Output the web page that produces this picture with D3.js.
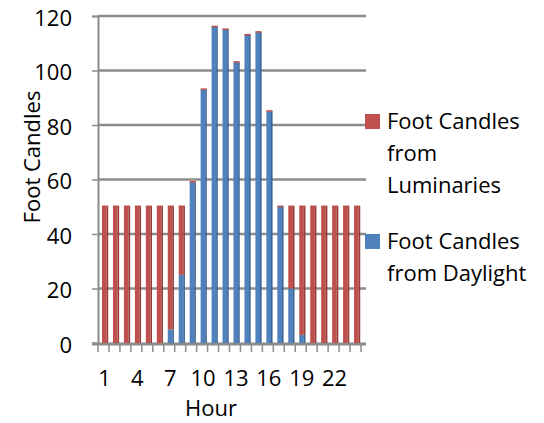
<!DOCTYPE html>
<html>
<head>
<meta charset="utf-8">
<script src="https://cdn.jsdelivr.net/npm/d3@7"></script>
<style>
  html, body { margin: 0; padding: 0; background: #fff; }
  svg { display: block; font-family: "Open Sans", sans-serif; }
</style>
</head>
<body>
<svg id="chart" width="544" height="423"></svg>
<script>
const hours = [1,2,3,4,5,6,7,8,9,10,11,12,13,14,15,16,17,18,19,20,21,22,23,24];
const daylight   = [0,0,0,0,0,0,5,25,59,93,116,115,103,113,114,85,50,20,3,0,0,0,0,0];
const luminaries = [50,50,50,50,50,50,45,25,0,0,0,0,0,0,0,0,0,30,47,50,50,50,50,50];
const yTicks = [0,20,40,60,80,100,120];
const xTickLabels = [1,4,7,10,13,16,19,22];
const seriesNames = ["Foot Candles from Daylight", "Foot Candles from Luminaries"];
const colors = { daylight: "#4F81BD", luminaries: "#C0504D" };
const sideColors = { daylight: "#3A6496", luminaries: "#963B38" };
const FS = 22;

const svg = d3.select("#chart");
const x = d3.scaleBand().domain(hours).range([98, 361]);
const y = d3.scaleLinear().domain([0, 120]).range([343, 16]);

// gridlines
svg.append("g").selectAll("line").data(yTicks.filter(d => d > 0)).join("line")
  .attr("x1", 98).attr("x2", 366)
  .attr("y1", d => y(d)).attr("y2", d => y(d))
  .attr("stroke", "#8c8c8c").attr("stroke-width", 2.5);

// y axis
const yAxis = d3.axisLeft(y).tickValues(yTicks).tickSize(6).tickPadding(20);
const gy = svg.append("g").attr("transform", "translate(98,0)").call(yAxis);
gy.select(".domain").attr("stroke", "#8c8c8c").attr("stroke-width", 2);
gy.selectAll(".tick line").attr("stroke", "#8c8c8c").attr("stroke-width", 1.5);
gy.selectAll(".tick text").attr("font-size", FS).attr("fill", "#000")
  .attr("font-family", "Open Sans, sans-serif").attr("dy", "0.42em");

// floor + x ticks
svg.append("line").attr("x1", 92).attr("x2", 366).attr("y1", 344).attr("y2", 344)
  .attr("stroke", "#8c8c8c").attr("stroke-width", 3);
const xAxis = d3.axisBottom(x).tickValues(xTickLabels).tickSize(0).tickPadding(26);
const gx = svg.append("g").attr("transform", "translate(0,344)").call(xAxis);
gx.select(".domain").remove();
gx.selectAll(".tick text").attr("font-size", FS).attr("fill", "#000")
  .attr("font-family", "Open Sans, sans-serif").attr("dx", 1);
svg.append("g").selectAll("line").data(hours.concat([25])).join("line")
  .attr("x1", d => d <= 24 ? x(d) : x(24) + x.bandwidth())
  .attr("x2", d => d <= 24 ? x(d) : x(24) + x.bandwidth())
  .attr("y1", 345).attr("y2", 352)
  .attr("stroke", "#8c8c8c").attr("stroke-width", 1.5);

// stacked bars
const rows = hours.map((h, i) => ({ hour: h, daylight: daylight[i], luminaries: luminaries[i] }));
const stack = d3.stack().keys(["daylight", "luminaries"])(rows);
const frontW = 4.6, sideW = 1.6, off = 4;
const gBars = svg.append("g");
stack.forEach(layer => {
  const key = layer.key;
  const g = gBars.append("g");
  g.selectAll("rect.front").data(layer).join("rect").attr("class", "front")
    .attr("x", d => x(d.data.hour) + off)
    .attr("y", d => y(d[1]))
    .attr("width", frontW)
    .attr("height", d => y(d[0]) - y(d[1]))
    .attr("fill", colors[key]);
  g.selectAll("rect.side").data(layer).join("rect").attr("class", "side")
    .attr("x", d => x(d.data.hour) + off + frontW)
    .attr("y", d => y(d[1]))
    .attr("width", sideW)
    .attr("height", d => y(d[0]) - y(d[1]))
    .attr("fill", sideColors[key]);
});
// top caps (3D top face of the top series)
gBars.selectAll("rect.cap").data(stack[1]).join("rect").attr("class", "cap")
  .attr("x", d => x(d.data.hour) + off)
  .attr("y", d => y(d[1]) - 1.2)
  .attr("width", frontW + sideW)
  .attr("height", 1.6)
  .attr("fill", "#B5504D");

// axis titles
svg.append("text").attr("x", 211).attr("y", 416).attr("text-anchor", "middle")
  .attr("font-size", FS).text("Hour");
svg.append("text").attr("transform", "translate(40,157) rotate(-90)")
  .attr("text-anchor", "middle").attr("font-size", FS).text("Foot Candles");

// legend
const legend = [
  { key: "luminaries", lines: ["Foot Candles", "from", "Luminaries"], y: 114 },
  { key: "daylight", lines: ["Foot Candles", "from Daylight"], y: 234 }
];
legend.forEach(l => {
  svg.append("rect").attr("x", 365).attr("y", l.y).attr("width", 15).attr("height", 15)
    .attr("fill", colors[l.key]);
  const t = svg.append("text").attr("font-size", FS);
  l.lines.forEach((s, i) => {
    t.append("tspan").attr("x", 387).attr("y", l.y + 15 + i * 32).text(s);
  });
});
</script>
</body>
</html>
